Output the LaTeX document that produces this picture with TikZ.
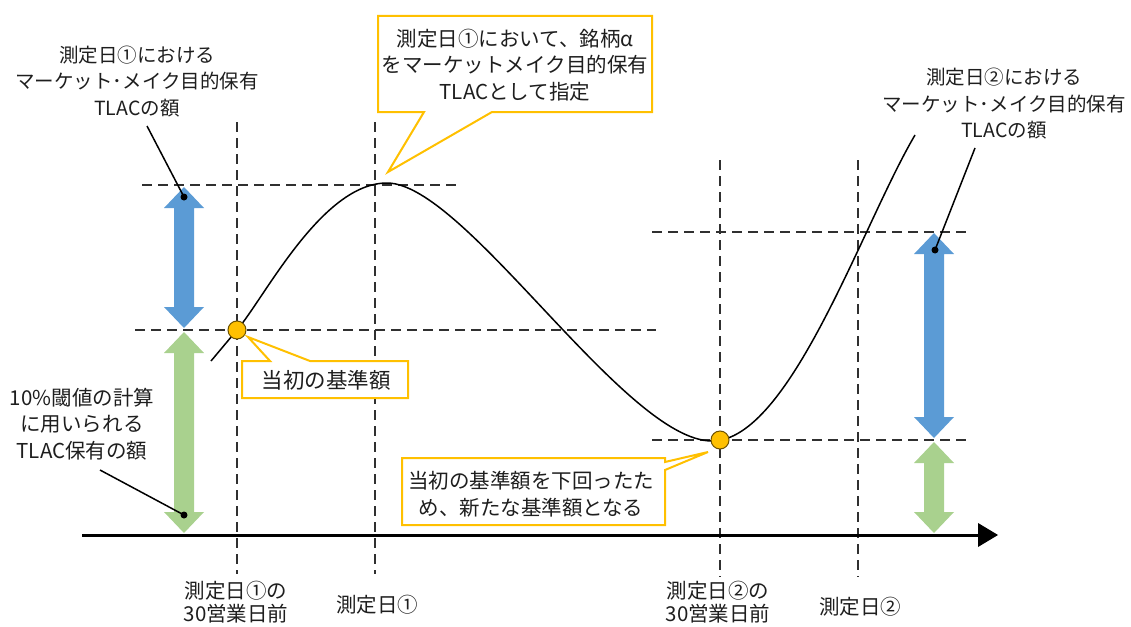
\documentclass[tikz,border=0pt]{standalone}
\usepackage{fontspec}
\setmainfont{Noto Sans CJK JP}
\definecolor{cblue}{HTML}{5B9BD5}
\definecolor{cgreen}{HTML}{A9D18E}
\definecolor{corange}{HTML}{FFC000}
\definecolor{cdotedge}{HTML}{6E5200}
\definecolor{cdash}{HTML}{303030}
\definecolor{ctext}{HTML}{1E1E1E}
\newcommand\fatarr[4]{\fill[#4] (#1,#2) -- (#1+20,#2+21) -- (#1+10,#2+21) -- (#1+10,#3-21) -- (#1+20,#3-21) -- (#1,#3) -- (#1-20,#3-21) -- (#1-10,#3-21) -- (#1-10,#2+21) -- (#1-20,#2+21) -- cycle;}
\tikzset{
  guide/.style={draw=cdash,line width=1.8pt,dash pattern=on 10pt off 6pt},
  lbl/.style={inner sep=0pt,align=center,text=ctext,font=\fontsize{20.5}{26.5}\selectfont},
  slbl/.style={inner sep=0pt,align=center,text=ctext,font=\fontsize{19.5}{26.5}\selectfont},
  blbl/.style={inner sep=0pt,align=center,text=ctext,font=\fontsize{20.5}{23}\selectfont},
  callout/.style={draw=corange,line width=2pt,fill=white,line join=miter},
  pointer/.style={draw=black,line width=1.5pt},
  pdot/.style={circle,fill=black,inner sep=0pt,minimum size=7pt},
  odot/.style={circle,fill=corange,draw=cdotedge,line width=1pt,inner sep=0pt,minimum size=18pt},
}
\begin{document}
\begin{tikzpicture}[x=1pt,y=-1pt]
\useasboundingbox (0,0) rectangle (1131,626);
% guide coordinates
\coordinate (v1t) at (237,122); \coordinate (v1b) at (237,574);
\coordinate (v2t) at (375,122); \coordinate (v2b) at (375,574);
\coordinate (v3t) at (720,160); \coordinate (v3b) at (720,577);
\coordinate (v4t) at (858,160); \coordinate (v4b) at (858,577);
\coordinate (h1l) at (142,185); \coordinate (h1r) at (460,185);
\coordinate (h2l) at (135,330); \coordinate (h2r) at (656,330);
\coordinate (h3l) at (652,232); \coordinate (h3r) at (970,232);
\coordinate (h4l) at (652,440); \coordinate (h4r) at (970,440);
\draw[guide] (v1t) -- (v1b);
\draw[guide] (v2t) -- (v2b);
\draw[guide] (v3t) -- (v3b);
\draw[guide] (v4t) -- (v4b);
\draw[guide] (h1l) -- (h1r);
\draw[guide] (h2l) -- (h2r);
\draw[guide] (h3l) -- (h3r);
\draw[guide] (h4l) -- (h4r);
% axis
\coordinate (ax0) at (82,535); \coordinate (ax1) at (982,535);
\draw[line width=3pt] (ax0) -- (ax1);
\fill (978,523) -- (998,535) -- (978,547) -- cycle;
% fat arrows
\fatarr{184}{187}{328}{cblue}
\fatarr{184}{332}{533}{cgreen}
\fatarr{934}{233}{438}{cblue}
\fatarr{934}{442}{533}{cgreen}
% curve
\draw[line width=1.5pt] (211,361) -- (237,330) .. controls (265,297) and (322,183) .. (387,183)
  .. controls (465,183) and (625,441) .. (712,441)
  .. controls (790,441) and (862,225) .. (915,135);
% orange dots
\node[odot] (d1) at (237,330) {};
\node[odot] (d2) at (720,440) {};
% callouts
\draw[callout] (378,16) -- (652,16) -- (652,112) -- (492,112) -- (388,172) -- (424,112) -- (378,112) -- cycle;
\draw[callout] (242,361) -- (270,361) -- (248,337) -- (310,361) -- (408,361) -- (408,398) -- (242,398) -- cycle;
\draw[callout] (402,458) -- (665,458) -- (665,462) -- (708,452) -- (665,470) -- (665,525) -- (402,525) -- cycle;
\node[lbl] (c1) at (515,65) {測定日①において、銘柄α\\をマーケットメイク目的保有\\TLACとして指定};
\node[lbl,font=\fontsize{21.5}{24}\selectfont] (c2) at (326,380) {当初の基準額};
\node[lbl] (c3) at (531,494) {当初の基準額を下回ったた\\め、新たな基準額となる};
% side labels
\node[slbl] (tl) at (137,81.5) {測定日①における\\マーケット･メイク目的保有\\TLACの額};
\node[slbl] (tr) at (1004,104) {測定日②における\\マーケット･メイク目的保有\\TLACの額};
\node[lbl] (bl) at (82,424) {10\%閾値の計算\\に用いられる\\TLAC保有の額};
% pointers
\coordinate (ptl) at (147,126); \node[pdot] (etl) at (184,197) {};
\coordinate (ptr) at (975,148); \node[pdot] (etr) at (935,250) {};
\coordinate (pbl) at (100,470); \node[pdot] (ebl) at (184,515) {};
\draw[pointer] (ptl) -- (etl.center);
\draw[pointer] (ptr) -- (etr.center);
\draw[pointer] (pbl) -- (ebl.center);
% bottom labels
\node[blbl] (b1) at (236,602.5) {測定日①の\\30営業日前};
\node[blbl] (b2) at (377,605) {測定日①};
\node[blbl] (b3) at (718,602.5) {測定日②の\\30営業日前};
\node[blbl] (b4) at (860,607) {測定日②};
\end{tikzpicture}
\end{document}
